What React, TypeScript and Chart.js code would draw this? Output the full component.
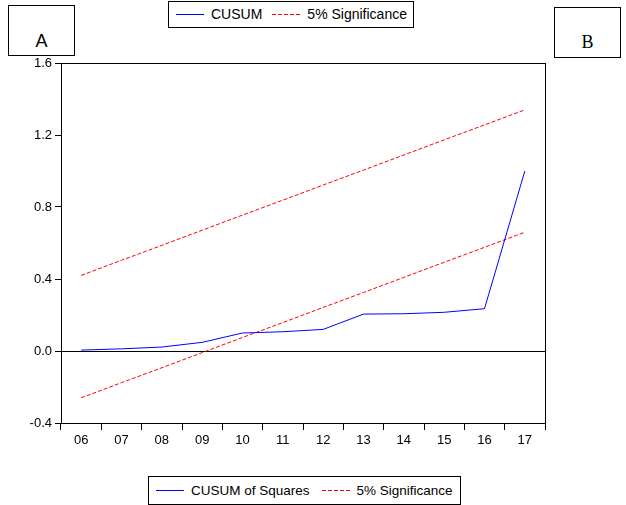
import React, { useEffect, useRef } from "react";
import { Chart, registerables } from "chart.js";
Chart.register(...registerables);

const years = ["06", "07", "08", "09", "10", "11", "12", "13", "14", "15", "16", "17"];
const cusum = [0.005, 0.012, 0.022, 0.048, 0.1, 0.107, 0.12, 0.205, 0.207, 0.215, 0.235, 1.0];
const upper = [0.42, 0.504, 0.587, 0.671, 0.755, 0.838, 0.922, 1.005, 1.089, 1.173, 1.256, 1.34];
const lower = [-0.26, -0.176, -0.093, -0.009, 0.075, 0.158, 0.242, 0.325, 0.409, 0.493, 0.576, 0.66];
const yMin = -0.4;
const yMax = 1.6;
const yStep = 0.4;

const FONT = "'Liberation Sans', Arial, sans-serif";

const framePlugin = {
  id: "frame",
  afterDraw(chart: any) {
    const { ctx, chartArea } = chart;
    ctx.save();
    ctx.strokeStyle = "#000";
    ctx.lineWidth = 1;
    const x = Math.round(chartArea.right) + 0.5;
    ctx.beginPath();
    ctx.moveTo(x, chartArea.top);
    ctx.lineTo(x, chartArea.bottom);
    ctx.stroke();
    ctx.restore();
  },
};

function Sample(props: { color: string; dashed: boolean }) {
  const bg = props.dashed
    ? `repeating-linear-gradient(to right, ${props.color} 0px, ${props.color} 4px, transparent 4px, transparent 6px)`
    : props.color;
  return <div style={{ width: 28, height: 1, background: bg, marginRight: 7, flex: "0 0 auto" }} />;
}

function LegendBox(props: {
  left: number;
  top: number;
  width: number;
  height: number;
  fontSize: number;
  gap: number;
  items: { label: string; color: string; dashed: boolean }[];
}) {
  return (
    <div
      style={{
        position: "absolute",
        left: props.left,
        top: props.top,
        width: props.width,
        height: props.height,
        border: "1px solid #000",
        boxSizing: "border-box",
        display: "flex",
        alignItems: "center",
        paddingLeft: 7,
        fontFamily: FONT,
        fontSize: props.fontSize,
        color: "#000",
        background: "#fff",
        whiteSpace: "nowrap",
        overflow: "hidden",
      }}
    >
      {props.items.map((it, i) => (
        <div
          key={i}
          style={{
            display: "flex",
            alignItems: "center",
            height: 17,
            lineHeight: "17px",
            marginRight: props.gap,
            flex: "0 0 auto",
          }}
        >
          <Sample color={it.color} dashed={it.dashed} />
          <span>{it.label}</span>
        </div>
      ))}
    </div>
  );
}

export default function App() {
  const ref = useRef<HTMLCanvasElement | null>(null);

  useEffect(() => {
    if (!ref.current) return;
    const chart = new Chart(ref.current, {
      type: "line",
      data: {
        labels: years,
        datasets: [
          {
            label: "CUSUM",
            data: cusum,
            borderColor: "#0000ff",
            borderWidth: 1,
            pointRadius: 0,
            tension: 0,
          },
          {
            label: "Upper 5%",
            data: upper,
            borderColor: "#ff0000",
            borderWidth: 1,
            borderDash: [4, 2],
            pointRadius: 0,
          },
          {
            label: "Lower 5%",
            data: lower,
            borderColor: "#ff0000",
            borderWidth: 1,
            borderDash: [4, 2],
            pointRadius: 0,
          },
        ],
      },
      options: {
        responsive: false,
        animation: false,
        layout: { padding: { left: 0, top: 63, right: 81, bottom: 0 } },
        plugins: { legend: { display: false }, tooltip: { enabled: false } },
        scales: {
          x: {
            offset: true,
            grid: {
              offset: true,
              drawOnChartArea: false,
              drawTicks: true,
              tickLength: 7,
              tickColor: "#000",
            },
            border: { display: true, color: "#000", width: 1 },
            ticks: { color: "#000", font: { family: FONT, size: 13 }, padding: 3, maxRotation: 0 },
            afterFit: (s: any) => {
              s.height = 82;
            },
          },
          y: {
            min: yMin,
            max: yMax,
            grid: {
              drawOnChartArea: true,
              color: (c: any) => {
                const v = c.tick ? c.tick.value : 0;
                return Math.abs(v) < 1e-9 || Math.abs(v - yMax) < 1e-9 ? "#000" : "rgba(0,0,0,0)";
              },
              tickColor: "#000",
              tickLength: 6,
            },
            border: { display: true, color: "#000", width: 1 },
            ticks: {
              stepSize: yStep,
              color: "#000",
              font: { family: FONT, size: 13 },
              padding: 3,
              callback: (v: any) => (Math.abs(Number(v)) < 1e-9 ? 0 : Number(v)).toFixed(1),
            },
            afterFit: (s: any) => {
              s.width = 61;
            },
          },
        },
      },
      plugins: [framePlugin],
    });
    return () => chart.destroy();
  }, []);

  return (
    <div style={{ position: "fixed", left: 0, top: 0, width: 626, height: 505, background: "#fff" }}>
      <canvas ref={ref} width={626} height={505} style={{ position: "absolute", left: 0, top: 0 }} />
      <LegendBox
        left={168}
        top={1}
        width={246}
        height={27}
        fontSize={14}
        gap={10}
        items={[
          { label: "CUSUM", color: "#0000ff", dashed: false },
          { label: "5% Significance", color: "#ff0000", dashed: true },
        ]}
      />
      <LegendBox
        left={148}
        top={476}
        width={313}
        height={29}
        fontSize={13.5}
        gap={12}
        items={[
          { label: "CUSUM of Squares", color: "#0000ff", dashed: false },
          { label: "5% Significance", color: "#ff0000", dashed: true },
        ]}
      />
      <div
        style={{
          position: "absolute",
          left: 8,
          top: 5,
          width: 67,
          height: 51,
          border: "1px solid #000",
          boxSizing: "border-box",
          background: "#fff",
          fontFamily: FONT,
          fontSize: 18,
          textAlign: "center",
          paddingTop: 25,
        }}
      >
        A
      </div>
      <div
        style={{
          position: "absolute",
          left: 554,
          top: 7,
          width: 67,
          height: 51,
          border: "1px solid #000",
          boxSizing: "border-box",
          background: "#fff",
          fontFamily: "'Liberation Serif', serif",
          fontSize: 18,
          textAlign: "center",
          paddingTop: 24,
        }}
      >
        B
      </div>
    </div>
  );
}
